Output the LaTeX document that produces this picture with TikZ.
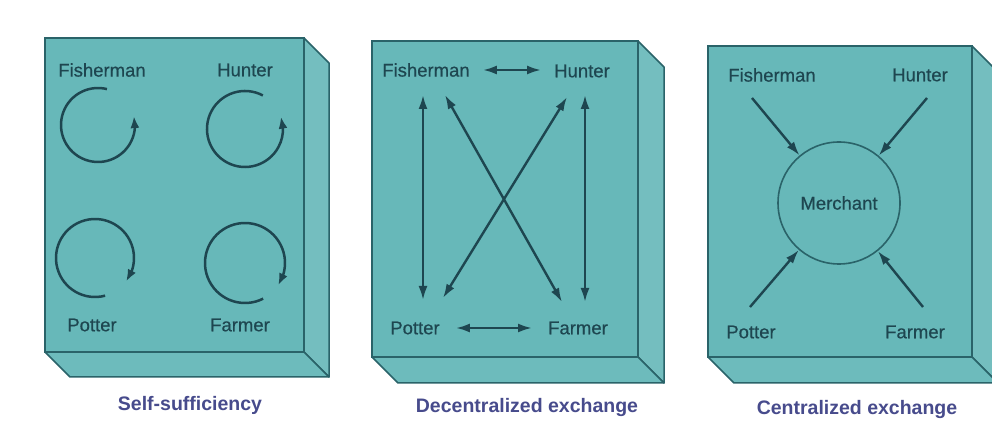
\documentclass[tikz,border=0pt]{standalone}
\usepackage{fontspec}
\setmainfont{Liberation Sans}
\newfontfamily\labfont[FakeBold=0.5]{Liberation Sans}
\usetikzlibrary{arrows.meta,bending}
\definecolor{facec}{HTML}{67B8B9}
\definecolor{sidec}{HTML}{74BEBF}
\definecolor{botc}{HTML}{6DBBBC}
\definecolor{edgec}{HTML}{2A6369}
\definecolor{inkc}{HTML}{1E4650}
\definecolor{capc}{HTML}{474B8C}
\newcommand\mybox[5]{%
  \filldraw[sidec,draw=edgec,line width=1.5pt,line join=round]
    (#3,#4) -- (#3+#5,#4-#5) -- (#3+#5,#2-#5) -- (#3,#2) -- cycle;
  \filldraw[botc,draw=edgec,line width=1.5pt,line join=round]
    (#1,#2) -- (#3,#2) -- (#3+#5,#2-#5) -- (#1+#5,#2-#5) -- cycle;
  \filldraw[facec,draw=edgec,line width=1.5pt] (#1,#2) rectangle (#3,#4);}
\begin{document}
\begin{tikzpicture}[x=1pt,y=1pt,
  lab/.style={text=inkc,font=\labfont\fontsize{18.5}{20}\selectfont,inner sep=1pt},
  captext/.style={text=capc,font=\bfseries\fontsize{19.5}{21}\selectfont,inner sep=1pt},
  cyc/.style={draw=inkc,line width=2.5pt,-{Latex[length=12pt,width=9pt]}},
  dbl/.style={draw=inkc,line width=2.4pt,{Latex[length=14pt,width=9pt]}-{Latex[length=14pt,width=9pt]}},
  one/.style={draw=inkc,line width=2.4pt,-{Latex[length=14pt,width=9pt]}},
  merch/.style={circle,draw=edgec,line width=1.6pt,minimum size=122pt,inner sep=0pt,text=inkc,font=\labfont\fontsize{18.5}{20}\selectfont}]
\useasboundingbox (0,0) rectangle (992,425);
\fill[white] (0,0) rectangle (992,425);
\begin{scope}
\clip (0,0) rectangle (992,425);
\mybox{45}{73}{304}{387}{25}
\mybox{372}{68}{638}{384}{26}
\mybox{708}{68}{972}{379}{26}
\end{scope}
% Box 1: self-sufficiency
\node[lab] (f1) at (102,355) {Fisherman};
\node[lab] (h1) at (245,355) {Hunter};
\node[lab] (p1) at (92,100) {Potter};
\node[lab] (g1) at (240,100) {Farmer};
\draw[cyc] ([shift={(76:37)}]98,300) arc[start angle=76,end angle=374,radius=37];
\draw[cyc] ([shift={(62:38)}]245,296) arc[start angle=62,end angle=379,radius=38];
\draw[cyc] ([shift={(-75:39)}]95,167) arc[start angle=285,end angle=-37,radius=39];
\draw[cyc] ([shift={(-63:40)}]245,162) arc[start angle=297,end angle=-34,radius=40];
\node[captext] (c1) at (190,20) {Self-sufficiency};
% Box 2: decentralized exchange
\node[lab] (f2) at (426,355) {Fisherman};
\node[lab] (h2) at (582,354) {Hunter};
\node[lab] (p2) at (415,97) {Potter};
\node[lab] (g2) at (578,97) {Farmer};
\draw[dbl,shorten <=12pt,shorten >=12pt] (f2.east) -- (h2.west |- f2.east);
\draw[dbl,shorten <=15pt,shorten >=15pt] (p2.east) -- (g2.west |- p2.east);
\coordinate (fa) at (423,330); \coordinate (pa) at (423,125);
\coordinate (ha) at (585,330); \coordinate (ga) at (585,123);
\coordinate (fb) at (445,330); \coordinate (gb) at (562,123);
\coordinate (hb) at (567,328); \coordinate (pb) at (443,127);
\draw[dbl] (fa) -- (pa);
\draw[dbl] (ha) -- (ga);
\draw[dbl] (fb) -- (gb);
\draw[dbl] (hb) -- (pb);
\node[captext] (c2) at (527,17) {Decentralized exchange};
% Box 3: centralized exchange
\node[lab] (f3) at (772,350) {Fisherman};
\node[lab] (h3) at (920,350) {Hunter};
\node[lab] (p3) at (751,93) {Potter};
\node[lab] (g3) at (915,93) {Farmer};
\node[merch] (m) at (839,222) {Merchant};
\coordinate (fc) at (752,327);
\coordinate (hc) at (927,327);
\coordinate (pc) at (750,118);
\coordinate (gc) at (923,118);
\draw[one] (fc) -- (m);
\draw[one] (hc) -- (m);
\draw[one] (pc) -- (m);
\draw[one] (gc) -- (m);
\node[captext] (c3) at (857,15) {Centralized exchange};
\end{tikzpicture}
\end{document}
